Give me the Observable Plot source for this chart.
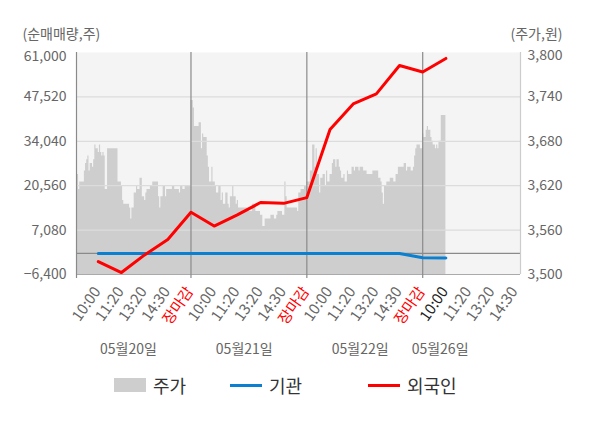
<!DOCTYPE html>
<html>
<head>
<meta charset="utf-8">
<script src="https://cdn.jsdelivr.net/npm/d3@7"></script>
<script src="https://cdn.jsdelivr.net/npm/@observablehq/plot@0.6"></script>
<style>
  html, body { margin: 0; padding: 0; background: #fff; }
  body { width: 600px; height: 428px; overflow: hidden; font-family: "Noto Sans CJK KR", "Noto Sans", sans-serif; }
  #legend { position: relative; height: 40px; font-size: 18px; color: #333; }
  .item { position: absolute; top: 7px; display: flex; align-items: center; height: 24px; }
  .sw { width: 32px; margin-right: 7px; }
</style>
</head>
<body>
<div id="chart"></div>
<div id="legend">
  <div class="item" style="left:114px"><span class="sw" style="height:14px;background:#cecece"></span>주가</div>
  <div class="item" style="left:230px"><span class="sw" style="height:3px;background:#0b80d0"></span>기관</div>
  <div class="item" style="left:368px"><span class="sw" style="height:3px;background:#ff0000"></span>외국인</div>
</div>
<script>
// ---- data ----
const dates = ["05월20일", "05월21일", "05월22일", "05월26일"];
const timeLabels = ["10:00", "11:20", "13:20", "14:30", "장마감"];
const leftTicks = [-6400, 7080, 20560, 34040, 47520, 61000];
const priceDomain = [3500, 3800];

// net buying (shares) at each time label, 05-20 10:00 ... 05-26 10:00
const foreign = [-2460, -5800, -450, 4200, 12500, 8300, 11700, 15450, 15200, 16950,
                 37600, 45400, 48450, 57050, 55100, 59200];
const institution = [0, 0, 0, 0, 0, 0, 0, 0, 0, 0, 0, 0, 0, 0, -1300, -1400];

// price path per day: [slot (1/20 of a label interval), price]
const p0520 = [[0,3660],[1,3645],[2,3635],[3,3615],[4,3625],[8,3640],[9,3650],[10,3655],[11,3660],[12,3640],
  [13,3650],[15,3645],[16,3655],[17,3675],[18,3670],[20,3665],[21,3675],[22,3665],[23,3660],[24,3665],
  [25,3660],[26,3615],[28,3670],[37,3625],[40,3620],[41,3600],[42,3595],[47,3590],[48,3575],[49,3590],
  [51,3610],[53,3620],[54,3615],[56,3630],[58,3605],[60,3600],[61,3610],[62,3615],[65,3620],[67,3625],
  [72,3605],[73,3590],[74,3605],[76,3620],[78,3605],[79,3615],[84,3620],[86,3615],[90,3610],[91,3620],
  [93,3615],[95,3620]];
const p0521 = [[0,3735],[2,3725],[3,3700],[7,3705],[9,3670],[10,3690],[11,3685],[14,3660],[15,3645],[16,3625],
  [18,3645],[19,3625],[21,3620],[22,3610],[24,3620],[26,3600],[27,3610],[28,3595],[30,3610],[32,3595],
  [33,3590],[34,3605],[36,3620],[37,3605],[39,3595],[40,3600],[41,3590],[50,3585],[53,3595],[56,3585],
  [60,3580],[62,3565],[64,3575],[69,3580],[72,3575],[74,3580],[75,3585],[79,3580],[81,3625],[82,3605],
  [83,3590],[92,3585],[93,3610],[95,3615],[98,3620]];
const p0522 = [[0,3625],[3,3640],[5,3675],[7,3645],[8,3670],[9,3635],[11,3610],[12,3630],[14,3635],[16,3620],
  [17,3640],[18,3625],[20,3635],[22,3650],[23,3655],[25,3645],[26,3655],[28,3645],[29,3640],[30,3630],
  [32,3635],[33,3625],[35,3640],[36,3635],[39,3645],[41,3640],[42,3645],[45,3640],[46,3645],[49,3640],
  [52,3635],[57,3640],[62,3630],[64,3625],[65,3610],[66,3595],[67,3620],[69,3625],[72,3630],[75,3625],
  [77,3635],[79,3645],[84,3650],[86,3640],[87,3645],[90,3640],[92,3645],[93,3660],[94,3670],[95,3675],
  [98,3670]];
const p0526 = [[0,3690],[1,3685],[3,3695],[4,3700],[5,3695],[7,3685],[8,3680],[9,3675],[11,3670],[12,3675],
  [13,3670],[14,3680],[16,3715]];
const lastSlot = 20; // data on 05-26 runs to 10:00

// ---- derived tables ----
const perDay = timeLabels.length;            // label intervals per day
const slotsPerLabel = 20;
const yDomain = [leftTicks[0], leftTicks[leftTicks.length - 1]];
const toY = d3.scaleLinear(priceDomain, yDomain);
const toPrice = d3.scaleLinear(yDomain, priceDomain);

const priceRows = [];
[p0520, p0521, p0522, p0526].forEach((day, d) => {
  day.forEach(([s, p]) => priceRows.push({pos: d * perDay + s / slotsPerLabel, v: toY(p)}));
});
const lastP = p0526[p0526.length - 1][1];
priceRows.push({pos: 3 * perDay + lastSlot / slotsPerLabel, v: toY(lastP)});

const flowRows = foreign.map((f, i) => ({pos: i + 1, foreign: f, inst: institution[i]}));

const nTicks = dates.length * perDay - 1;
const lastDataTick = foreign.length;
const tickRows = d3.range(1, nTicks + 1).map(k => {
  const label = timeLabels[(k - 1) % perDay];
  return {pos: k, label,
    color: label === "장마감" ? "#ff0000" : (k === lastDataTick ? "#222222" : "#666666")};
});
const dayBounds = d3.range(1, dates.length).map(d => d * perDay);
const dateRows = dates.map((t, d) => ({
  t, pos: d < dates.length - 1 ? d * perDay + perDay / 2 - 0.2 : d * perDay + lastSlot / slotsPerLabel / 2 + 0.25
}));

const xDomain = [0.06, 19.22];
const gridTicks = leftTicks.slice(1, -1);
const fmt = d3.format(",");
const font = '"Noto Sans CJK KR", "Noto Sans", sans-serif';

const chart = Plot.plot({
  width: 600,
  height: 366,
  marginTop: 52,
  marginBottom: 92,
  marginLeft: 76,
  marginRight: 80,
  style: {fontSize: "14px", fontFamily: font, color: "#666", background: "#fff"},
  x: {domain: xDomain, axis: null},
  y: {domain: yDomain},
  marks: [
    Plot.frame({fill: "#f4f4f4", stroke: null}),
    Plot.areaY(priceRows, {x: "pos", y1: yDomain[0], y2: "v", curve: "step-after", fill: "#cecece", clip: true}),
    Plot.ruleY(gridTicks, {stroke: "#dcdcdc", strokeWidth: 1.3}),
    Plot.ruleY([0], {stroke: "#8a8a8a", strokeWidth: 1.2}),
    Plot.ruleY([yDomain[0]], {stroke: "#aaaaaa", strokeWidth: 1.2}),
    Plot.ruleX([xDomain[1]], {stroke: "#cccccc", strokeWidth: 1.2}),
    Plot.ruleX([xDomain[0], ...dayBounds], {stroke: "#8a8a8a", strokeWidth: 1.2, insetBottom: -4}),
    Plot.line(flowRows, {x: "pos", y: "inst", stroke: "#0b80d0", strokeWidth: 3}),
    Plot.line(flowRows, {x: "pos", y: "foreign", stroke: "#ff0000", strokeWidth: 3}),
    // left axis (top label nudged down as in the source)
    Plot.axisY({anchor: "left", ticks: leftTicks.slice(0, -1), tickSize: 0, tickPadding: 10, tickFormat: fmt, label: null}),
    Plot.axisY({anchor: "left", ticks: leftTicks.slice(-1), tickSize: 0, tickPadding: 10, tickFormat: fmt, label: null, dy: 4}),
    // right axis (price)
    Plot.axisY({anchor: "right", ticks: leftTicks.slice(0, -1), tickSize: 0, tickPadding: 7,
      tickFormat: v => fmt(Math.round(toPrice(v))), label: null}),
    Plot.axisY({anchor: "right", ticks: leftTicks.slice(-1), tickSize: 0, tickPadding: 7,
      tickFormat: v => fmt(Math.round(toPrice(v))), label: null, dy: 3}),
    // time tick labels
    Plot.text(tickRows, {x: "pos", text: "label", fill: "color", frameAnchor: "bottom",
      rotate: -55, textAnchor: "end", fontSize: 15, dx: 3, dy: 17}),
    Plot.text(dateRows, {x: "pos", text: "t", frameAnchor: "bottom", dy: 79, fill: "#666"}),
    Plot.text(["(순매매량,주)"], {frameAnchor: "top-left", textAnchor: "start", dx: -54, dy: -23, fill: "#666"}),
    Plot.text(["(주가,원)"], {frameAnchor: "top-right", textAnchor: "end", dx: 42, dy: -23, fill: "#666"})
  ]
});
document.getElementById("chart").appendChild(chart);
</script>
</body>
</html>
